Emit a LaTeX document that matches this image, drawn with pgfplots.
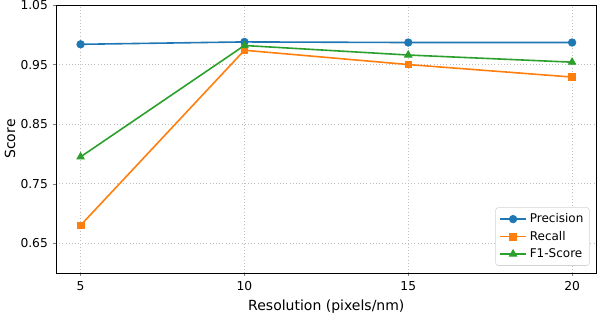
\documentclass[border=0pt]{standalone}
\usepackage{pgfplots}
\pgfplotsset{compat=1.18}
\usepackage{fontspec}
\setmainfont{DejaVu Sans}
\definecolor{tabblue}{HTML}{1F77B4}
\definecolor{taborange}{HTML}{FF7F0E}
\definecolor{tabgreen}{HTML}{2CA02C}
\begin{document}
\begin{tikzpicture}
\begin{axis}[
  at={(0,0)}, anchor=south west,
  scale only axis,
  width=405.5pt, height=201pt,
  xmin=4.25, xmax=20.75,
  ymin=0.6, ymax=1.05,
  xtick={5,10,15,20},
  ytick={0.65,0.75,0.85,0.95,1.05},
  yticklabel style={/pgf/number format/.cd,fixed,fixed zerofill,precision=2},
  /pgf/number format/assume math mode=true,
  ticklabel style={font=\fontsize{9.2}{11}\selectfont},
  tick align=outside,
  tick pos=left,
  major tick length=2.6pt,
  grid=major,
  major grid style={gray!50, dotted, line width=0.5pt},
  axis line style={line width=0.6pt},
  xlabel={Resolution (pixels/nm)},
  ylabel={Score},
  label style={font=\fontsize{10.5}{12}\selectfont},
  xlabel style={yshift=0pt},
  ylabel style={yshift=-3pt},
  legend cell align=left,
  legend style={font=\fontsize{9}{11}\selectfont, draw=gray!35, rounded corners=2pt,
    inner sep=2.5pt, row sep=0.8pt, at={(0.987,0.027)}, anchor=south east},
  legend image code/.code={\draw[mark repeat=2,mark phase=2]
    plot coordinates {(0cm,0cm) (0.35cm,0cm) (0.7cm,0cm)};},
  every axis plot/.append style={line width=1.2pt, mark options={line width=0.6pt}},
]
\addplot[color=tabblue, mark=*, mark size=2.8pt] coordinates {
  (5,0.984) (10,0.988) (15,0.987) (20,0.987)};
\addlegendentry{Precision}
\addplot[color=taborange, mark=square*, mark size=2.5pt] coordinates {
  (5,0.680) (10,0.974) (15,0.950) (20,0.929)};
\addlegendentry{Recall}
\addplot[color=tabgreen, mark=triangle*, mark size=3.2pt] coordinates {
  (5,0.795) (10,0.982) (15,0.966) (20,0.954)};
\addlegendentry{F1-Score}
\end{axis}
\pgfresetboundingbox
\path[use as bounding box] (-42pt,-32.5pt) rectangle (408pt,204.75pt);
\end{tikzpicture}
\end{document}
